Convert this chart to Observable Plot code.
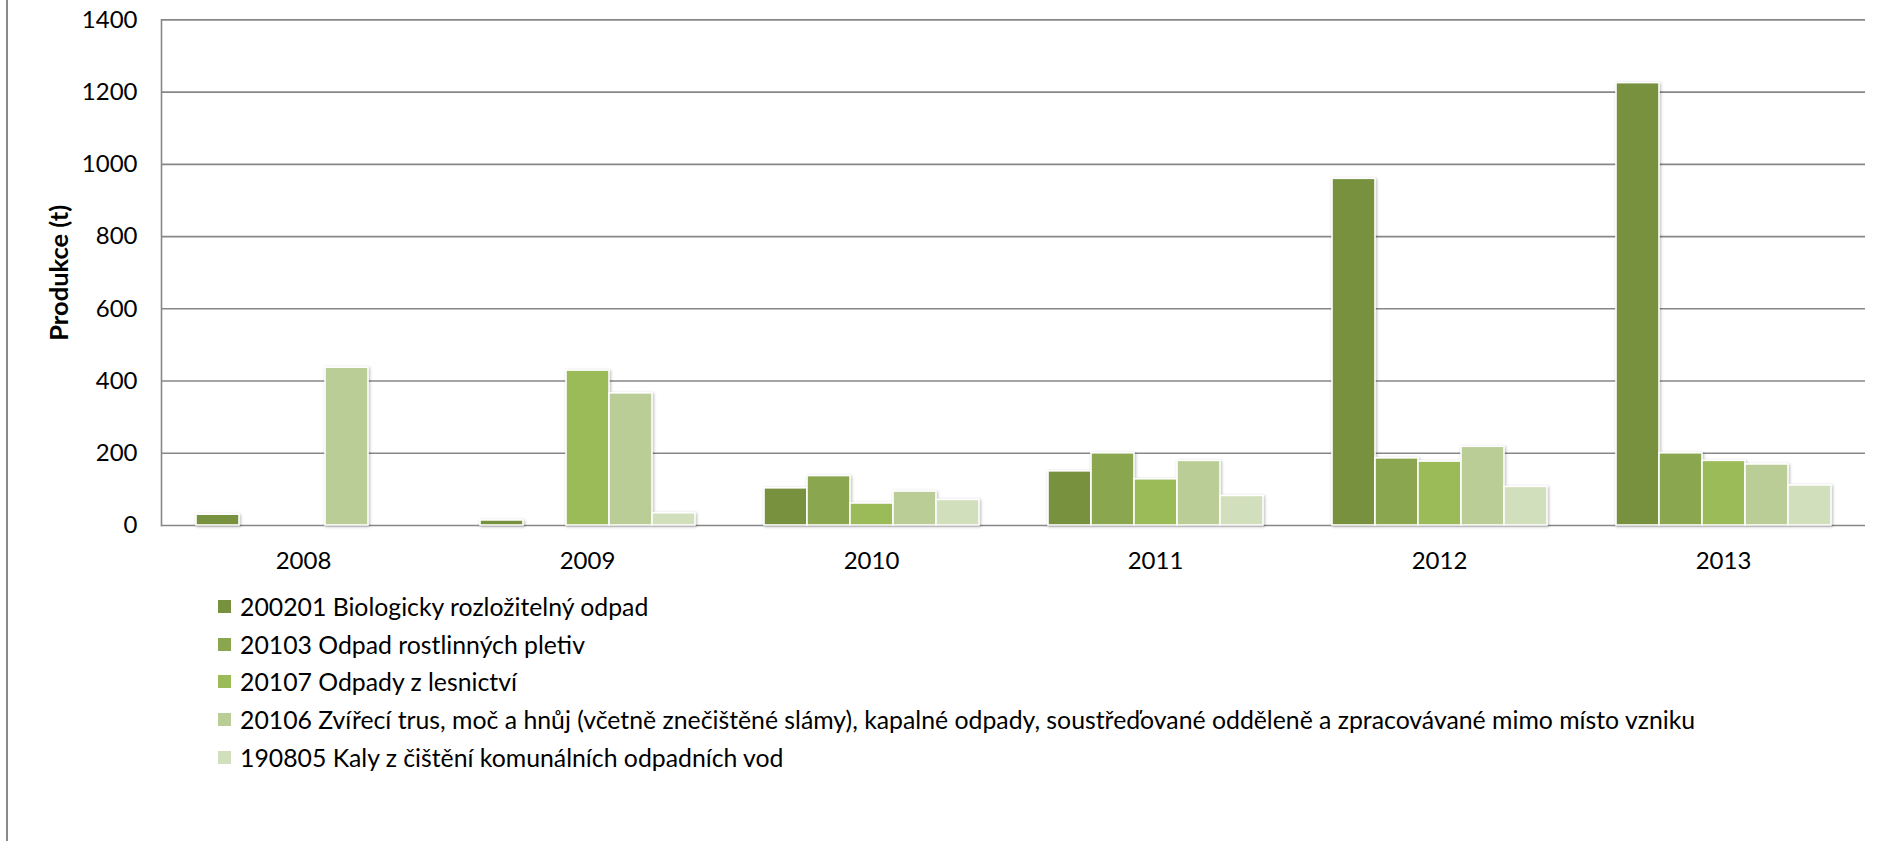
<!DOCTYPE html>
<html>
<head>
<meta charset="utf-8">
<script src="https://cdn.jsdelivr.net/npm/d3@7"></script>
<script src="https://cdn.jsdelivr.net/npm/@observablehq/plot@0.6"></script>
<style>
  html, body { margin: 0; padding: 0; background: #fff; }
  #page { position: relative; width: 1894px; height: 841px; overflow: hidden; font-family: Lato, sans-serif; }
  #border { position: absolute; left: 6.3px; top: 0; width: 0; height: 841px; border-left: 2px solid #8a8a8a; }
  #chart { position: absolute; left: 0; top: 0; }
  #legend { position: absolute; left: 218px; top: 588px; font-size: 24.8px; color: #000; }
  .row { display: flex; align-items: center; height: 37.6px; white-space: nowrap; }
  .sw { width: 13px; height: 13px; margin-right: 9px; flex: none; }
</style>
</head>
<body>
<div id="page">
  <div id="border"></div>
  <div id="chart"></div>
  <div id="legend"></div>
</div>
<script>
const years = ["2008", "2009", "2010", "2011", "2012", "2013"];
const series = [
  "200201 Biologicky rozložitelný odpad",
  "20103 Odpad rostlinných pletiv",
  "20107 Odpady z lesnictví",
  "20106 Zvířecí trus, moč a hnůj (včetně znečištěné slámy), kapalné odpady, soustřeďované odděleně a zpracovávané mimo místo vzniku",
  "190805 Kaly z čištění komunálních odpadních vod"
];
const colors = ["#77913f", "#8aa64f", "#9bbb59", "#bbcd97", "#d2dfbd"];

// values per series, in the order of years (null = no bar)
const v200201 = [30, 14, 103, 150, 960, 1225];
const v20103  = [null, null, 137, 200, 186, 200];
const v20107  = [null, 429, 61, 128, 177, 179];
const v20106  = [437, 366, 94, 179, 218, 169];
const v190805 = [null, 34, 71, 82, 107, 111];
const seriesValues = [v200201, v20103, v20107, v20106, v190805];

const yTicks = [0, 200, 400, 600, 800, 1000, 1200, 1400];
const yLabel = "Produkce (t)";

const data = years.flatMap((year, i) =>
  series.map((s, j) => ({ year, series: s, value: seriesValues[j][i] }))
).filter(d => d.value != null);

const chart = Plot.plot({
  width: 1894,
  height: 589,
  marginLeft: 160,
  marginRight: 28,
  marginTop: 19.4,
  marginBottom: 64,
  style: { fontFamily: "Lato, sans-serif", fontSize: "24px", color: "#000", background: "transparent", overflow: "visible" },
  fx: { domain: years, padding: 0, label: null, axis: null },
  x: { domain: series, paddingInner: 0, paddingOuter: 0.775, axis: null },
  y: { domain: [0, 1400], axis: null },
  color: { domain: series, range: colors },
  marks: [
    Plot.ruleY(yTicks, { stroke: "#878787", strokeWidth: 1.6 }),
    Plot.frame({ anchor: "left", facetAnchor: "left", stroke: "#878787", strokeWidth: 1.6 }),
    Plot.barY(data, { fx: "year", x: "series", y: "value", fill: "series", stroke: "#ffffff", strokeWidth: 1.6 }),
    Plot.axisY(yTicks, { anchor: "left", tickSize: 0, tickPadding: 24, tickFormat: d => String(d), label: yLabel, labelAnchor: "center", labelOffset: 112, labelArrow: "none", fill: "#000" }),
    Plot.axisFx({ anchor: "bottom", tickSize: 0, tickPadding: 26, label: null, fill: "#000" })
  ]
});

document.getElementById("chart").appendChild(chart);

const svg = d3.select(chart);
svg.selectAll('g[aria-label="bar"]').style("filter", "drop-shadow(1.5px 1.5px 1.5px rgba(0,0,0,0.28))");
svg.selectAll('g[aria-label="y-axis label"] text').style("font-weight", "bold").style("font-size", "25.5px");

const legend = d3.select("#legend");
series.forEach((s, i) => {
  const row = legend.append("div").attr("class", "row");
  row.append("div").attr("class", "sw").style("background", colors[i]);
  row.append("span").text(s);
});
</script>
</body>
</html>
